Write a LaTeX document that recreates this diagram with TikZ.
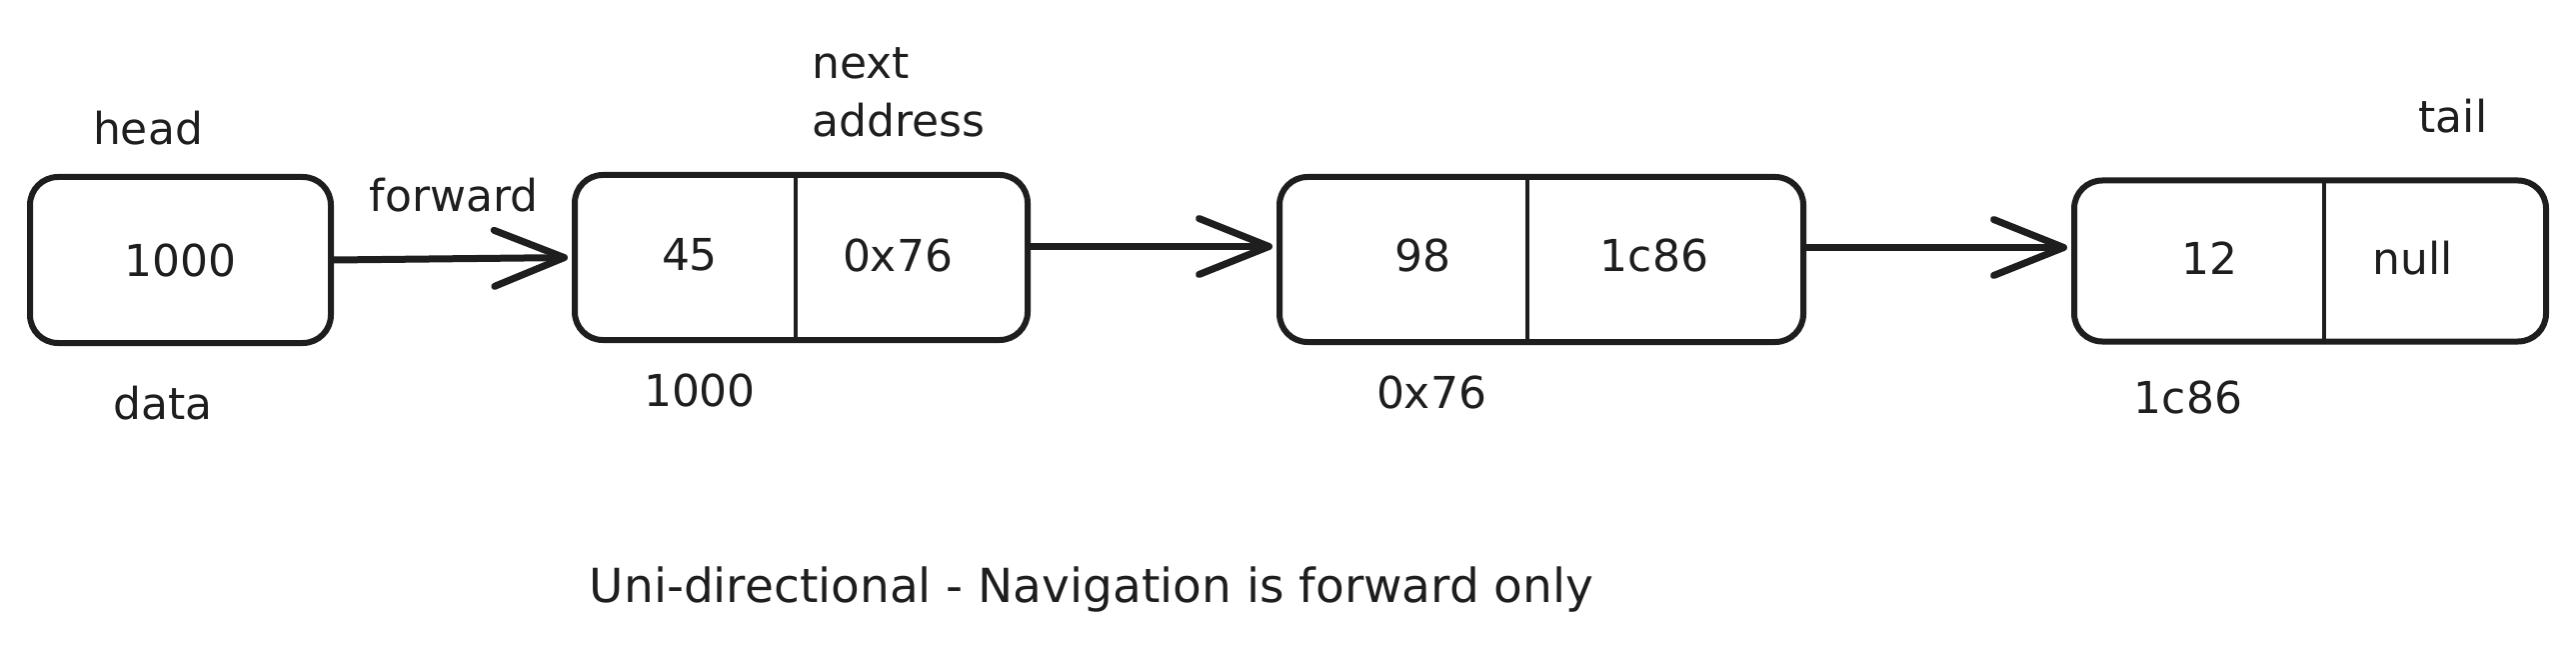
\documentclass[tikz,border=0pt]{standalone}
\usepackage{fontspec}
\setmainfont{DejaVu Sans}
\usetikzlibrary{arrows.meta}
\definecolor{ink}{HTML}{1E1E1E}
\begin{document}
\begin{tikzpicture}[x=1pt,y=-1pt,
  box/.style={draw=ink, line width=6pt, rounded corners=28pt, inner sep=0pt, text=ink, font=\fontsize{44}{58}\selectfont},
  lbl/.style={text=ink, font=\fontsize{44}{58}\selectfont, inner sep=0pt},
  divider/.style={draw=ink, line width=3.5pt},
  link/.style={draw=ink, line width=7pt, line cap=round, shorten >=4pt,
    -{Straight Barb[length=70pt,width=56pt,line width=7pt,round]}}]
\useasboundingbox (0,0) rectangle (2577,652);
% boxes
\node[box, minimum width=301pt, minimum height=166pt] (head) at (180.5,260) {1000};
\node[box, minimum width=453pt, minimum height=165pt] (n1) at (801.5,257.5) {};
\node[box, minimum width=524pt, minimum height=165pt] (n2) at (1542,259.5) {};
\node[box, minimum width=472pt, minimum height=161pt] (n3) at (2311,261) {};
% dividers
\draw[divider] (n1.north -| 796,0) -- (n1.south -| 796,0);
\draw[divider] (n2.north -| 1528,0) -- (n2.south -| 1528,0);
\draw[divider] ([yshift=-6pt]n3.north -| 2325,0) -- ([yshift=4pt]n3.south -| 2325,0);
% cell texts
\node[lbl] (v1) at (690,255) {45};
\node[lbl] (p1) at (898,255) {0x76};
\node[lbl] (v2) at (1423,255) {98};
\node[lbl] (p2) at (1655,255) {1c86};
\node[lbl] (v3) at (2210,258) {12};
\node[lbl] (p3) at (2414,258) {null};
% labels
\node[lbl] (lhead) at (148,128) {head};
\node[lbl] (ldata) at (163,403) {data};
\node[lbl] (lfwd) at (454,195) {forward};
\node[lbl, anchor=west, align=left] (lnext) at (812,92) {next\\address};
\node[lbl] (a1) at (700,390) {1000};
\node[lbl] (a2) at (1432,392) {0x76};
\node[lbl] (a3) at (2189,397) {1c86};
\node[lbl] (ltail) at (2454,116) {tail};
\node[lbl, font=\fontsize{47}{58}\selectfont] (note) at (1092,590) {Uni-directional - Navigation is forward only};
% connectors
\draw[link] (head.east) -- (n1.west);
\draw[link] ([yshift=11pt]n1.east) -- ([yshift=11pt]n1.east -| n2.west);
\draw[link] ([yshift=12pt]n2.east) -- ([yshift=12pt]n2.east -| n3.west);
\end{tikzpicture}
\end{document}
